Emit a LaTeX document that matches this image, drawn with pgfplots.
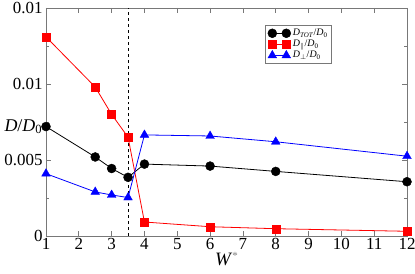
\documentclass[border=0pt]{standalone}
\usepackage{pgfplots}
\pgfplotsset{compat=1.18}
\usepackage{fontspec}
\setmainfont{Liberation Serif}
\definecolor{axgray}{RGB}{120,120,120}
\begin{document}
\begin{tikzpicture}
\path[use as bounding box] (-46bp,-38bp) rectangle (369bp,236bp);
\begin{axis}[
  at={(0,0)}, anchor=south west,
  scale only axis, width=361bp, height=228bp,
  xmin=1, xmax=12, ymin=0, ymax=0.015,
  xtick={1,2,...,12},
  ytick={0,0.005,0.01,0.015},
  yticklabels={0,0.005,0.01,0.01},
  minor y tick num=1,
  scaled y ticks=false,
  tick align=inside,
  major tick length=5bp, minor tick length=3bp,
  axis line style={axgray, line width=1pt},
  every tick/.style={axgray, line width=0.8pt},
  tick label style={font=\fontsize{17}{17}\selectfont},
  /pgf/number format/assume math mode=true,
  xticklabel style={yshift=1bp},
  xlabel={\textit{W}\raisebox{0.6ex}{\fontsize{11}{11}\selectfont\color{gray}*}},
  xlabel style={font=\fontsize{19}{19}\selectfont, yshift=4bp},
  every axis y label/.style={at={(axis description cs:0,0.48)}, anchor=west, xshift=-45bp},
  ylabel={\fontsize{18}{18}\selectfont\textit{D}/\textit{D}\textsubscript{0}},
  legend style={at={(axis description cs:0.792,0.926)}, anchor=north east,
    font=\fontsize{10}{11}\selectfont, draw=axgray, line width=0.8pt,
    row sep=-1bp, inner sep=2pt},
  legend cell align=left,
  legend image code/.code={\draw[mark repeat=2,mark phase=1,#1] plot coordinates {(0bp,0bp) (7bp,0bp) (14bp,0bp)};},
]
\draw[black, dashed, line width=0.8pt] (axis cs:3.5,0) -- (axis cs:3.5,0.015);
\addplot[black, line width=0.8pt, mark=*, mark size=4.5bp, mark options={solid, line width=0.4pt}]
  coordinates {(1,0.0072) (2.5,0.0052) (3,0.00444) (3.5,0.00386) (4,0.00473) (6,0.0046) (8,0.00425) (12,0.00357)};
\addlegendentry{\textit{D}\textsubscript{\textit{TOT}}/\textit{D}\textsubscript{0}}
\addplot[red, line width=0.8pt, mark=square*, mark size=4bp, mark options={solid, line width=0.4pt}]
  coordinates {(1,0.0131) (2.5,0.0098) (3,0.0080) (3.5,0.0065) (4,0.00092) (6,0.00061) (8,0.00048) (12,0.00031)};
\addlegendentry{\textit{D}\textsubscript{$\parallel$}/\textit{D}\textsubscript{0}}
\addplot[blue, line width=0.8pt, mark=triangle*, mark size=5bp, mark options={solid, line width=0.4pt}]
  coordinates {(1,0.0041) (2.5,0.0029) (3,0.0027) (3.5,0.00253) (4,0.00665) (6,0.00658) (8,0.0062) (12,0.00525)};
\addlegendentry{\textit{D}\textsubscript{$\perp$}/\textit{D}\textsubscript{0}}
\end{axis}
\end{tikzpicture}
\end{document}
